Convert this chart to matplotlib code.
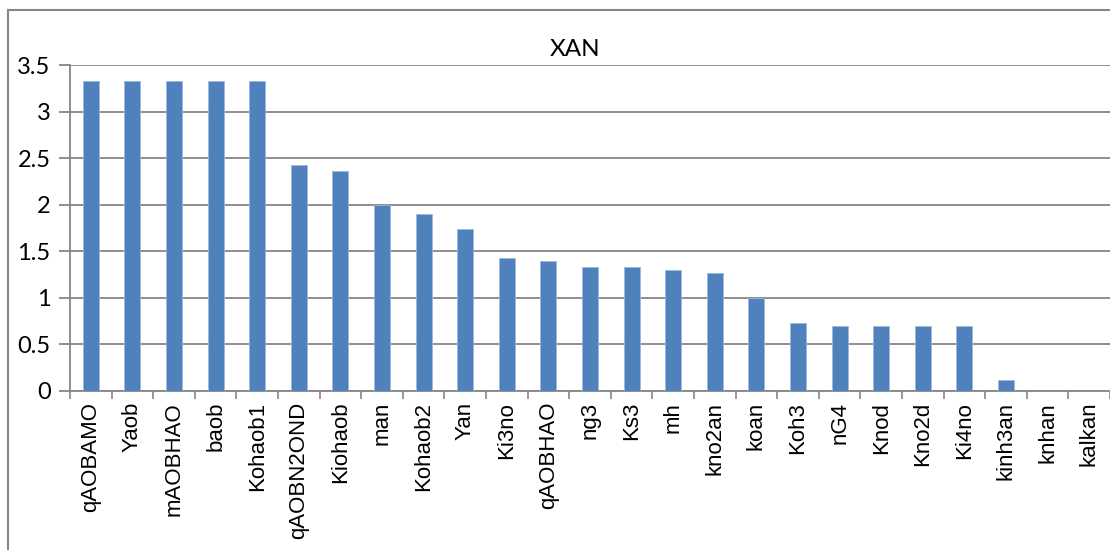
import numpy as np
import matplotlib.pyplot as plt
from matplotlib.lines import Line2D

names = ["qAOBAMO", "Yaob", "mAOBHAO", "baob", "Kohaob1", "qAOBN2OND",
         "Kiohaob", "man", "Kohaob2", "Yan", "Ki3no", "qAOBHAO", "ng3",
         "Ks3", "mh", "kno2an", "koan", "Koh3", "nG4", "Knod", "Kno2d",
         "Ki4no", "kinh3an", "knhan", "kalkan"]
values = [3.33, 3.33, 3.33, 3.33, 3.33, 2.43, 2.36, 2.0, 1.9, 1.74,
          1.43, 1.39, 1.33, 1.33, 1.3, 1.27, 1.0, 0.73, 0.69, 0.69,
          0.69, 0.69, 0.12, 0.0, 0.0]
yticks = [0, 0.5, 1, 1.5, 2, 2.5, 3, 3.5]
title = "XAN"

grey = "#868686"
bar_col = "#4F81BD"

fig = plt.figure(figsize=(11.1, 5.5), dpi=100)
ax = fig.add_axes([70 / 1110, 1 - 390.7 / 550, 1 - 70 / 1110, (390.7 - 65) / 550])

x = np.arange(len(names))
ax.bar(x, values, width=0.38, color=bar_col, edgecolor="#9db8dc", linewidth=0.6, zorder=3)

ax.set_xlim(-0.5, len(names) - 0.5)
ax.set_ylim(0, 3.5)
ax.set_yticks(yticks)
ax.set_yticklabels([f"{v:g}" for v in yticks], family="Lato", fontsize=17)
ax.yaxis.grid(True, color=grey, linewidth=1.3, zorder=0)

# category labels under bars, ticks on category boundaries
ax.set_xticks(x)
ax.set_xticklabels(names, rotation=90, family="Liberation Sans", fontsize=16, va="top")
ax.set_xticks(np.arange(len(names) + 1) - 0.5, minor=True)
ax.tick_params(axis="x", which="major", length=0, pad=8)
ax.tick_params(axis="x", which="minor", length=6, color=grey, width=1.2)
ax.tick_params(axis="y", length=8, color=grey, width=1.3, pad=6)

for side in ["top", "right"]:
    ax.spines[side].set_visible(False)
ax.spines["left"].set_color(grey)
ax.spines["left"].set_linewidth(1.3)
ax.spines["bottom"].set_color(grey)
ax.spines["bottom"].set_linewidth(1.3)

fig.text(575 / 1110, 1 - 50 / 550, title, ha="center", va="center", family="Lato", fontsize=17.5)

# outer chart frame
fig.add_artist(Line2D([8 / 1110, 8 / 1110], [0, 1 - 10 / 550], transform=fig.transFigure,
                      color=grey, linewidth=1.5))
fig.add_artist(Line2D([8 / 1110, 1], [1 - 10 / 550, 1 - 10 / 550], transform=fig.transFigure,
                      color=grey, linewidth=1.5))

fig.savefig("out.png", dpi=100, facecolor="white")
